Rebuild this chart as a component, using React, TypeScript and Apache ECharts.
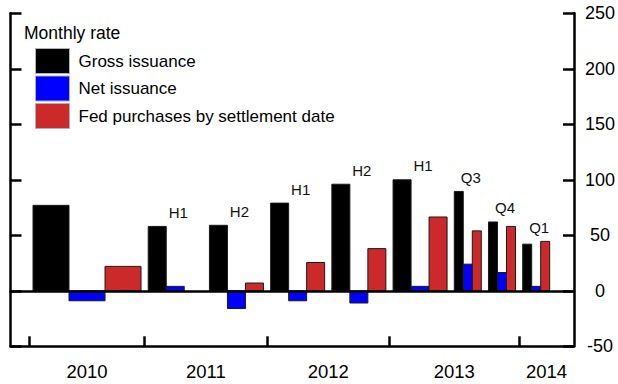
import React, { useEffect, useRef } from "react";
import * as echarts from "echarts";

// ---- data ----
const periods = ["2010", "2011 H1", "2011 H2", "2012 H1", "2012 H2", "2013 H1", "2013 Q3", "2013 Q4", "2014 Q1"];
const periodYears = [2010, 2011, 2011, 2012, 2012, 2013, 2013, 2013, 2014];
const periodMonths = [12, 6, 6, 6, 6, 6, 3, 3, 3];
const periodTags = ["", "H1", "H2", "H1", "H2", "H1", "Q3", "Q4", "Q1"];
const grossIssuance = [77, 58, 59, 79, 96, 100, 89.5, 62, 42];
const netIssuance = [-9, 4, -16, -9, -11, 4, 24, 16.5, 4];
const fedPurchases = [22, 0, 7, 25.5, 38, 66.5, 54, 58, 44.5];
const yTickValues = [-50, 0, 50, 100, 150, 200, 250];
const seriesNames = ["Gross issuance", "Net issuance", "Fed purchases by settlement date"];
const seriesColors = ["#000000", "#0000ff", "#cc2a2a"];

// ---- layout (axis units = months) ----
const GAP = 0.8;
const FIRST_TICK = 2.1;
const X_MAX = 62.6;
const FONT = '"Liberation Sans", Arial, Helvetica, sans-serif';

const starts: number[] = [];
{
  let p = FIRST_TICK + GAP / 2;
  periodMonths.forEach((m) => {
    starts.push(p);
    p += m + GAP;
  });
}
const years = Array.from(new Set(periodYears));
const yearTicks = years.map((y) => starts[periodYears.indexOf(y)] - GAP / 2);
const yearLabelPos = yearTicks.map((t, i) => (t + (i < yearTicks.length - 1 ? yearTicks[i + 1] : X_MAX)) / 2);

const allSeries = [grossIssuance, netIssuance, fedPurchases];

function barData(k: number) {
  return allSeries[k].map((v, i) => {
    const m = periodMonths[i];
    return [starts[i] + (m * k) / 3, starts[i] + (m * (k + 1)) / 3, v, i];
  });
}

const labelData = periods.map((_, i) => [
  starts[i] + periodMonths[i] / 2,
  Math.max(grossIssuance[i], netIssuance[i], fedPurchases[i], 0),
  i,
]);

export default function App() {
  const ref = useRef<HTMLDivElement>(null);
  useEffect(() => {
    if (!ref.current) return;
    const chart = echarts.init(ref.current, undefined, { renderer: "svg" });
    const barSeries = seriesNames.map((name, k) => ({
      name,
      type: "custom",
      xAxisIndex: 0,
      yAxisIndex: 0,
      itemStyle: { color: seriesColors[k] },
      encode: { x: [0, 1], y: 2 },
      data: barData(k),
      renderItem: (params: any, api: any) => {
        const v = api.value(2);
        if (!v) return null;
        const p0 = api.coord([api.value(0), v]);
        const p1 = api.coord([api.value(1), 0]);
        return {
          type: "rect",
          shape: {
            x: p0[0],
            y: Math.min(p0[1], p1[1]),
            width: p1[0] - p0[0],
            height: Math.abs(p1[1] - p0[1]),
          },
          style: { fill: seriesColors[k], stroke: "#1a1a1a", lineWidth: 1 },
        };
      },
    }));
    const option: any = {
      animation: false,
      title: {
        text: "Monthly rate",
        left: 24,
        top: 24,
        padding: 0,
        textStyle: { fontSize: 17.5, fontWeight: "normal", color: "#000", fontFamily: FONT },
      },
      legend: {
        orient: "vertical",
        left: 35,
        top: 48,
        padding: 0,
        itemWidth: 34,
        itemHeight: 25,
        itemGap: 1.5,
        icon: "rect",
        data: seriesNames,
        selectedMode: false,
        itemStyle: { borderColor: "#b0b0b0", borderWidth: 1 },
        textStyle: { fontSize: 17, color: "#000", fontFamily: FONT, padding: [0, 0, 0, 4] },
      },
      grid: {
        left: 10.5,
        right: 44,
        top: 13.3,
        bottom: 37.7,
        containLabel: false,
        outerBoundsMode: "none",
      },
      xAxis: [
        {
          type: "value",
          min: 0,
          max: X_MAX,
          position: "bottom",
          splitLine: { show: false },
          axisLine: { show: true, onZero: false, lineStyle: { color: "#000", width: 2.5 } },
          axisTick: {
            show: true,
            inside: true,
            length: 10,
            customValues: yearTicks,
            lineStyle: { color: "#000", width: 2.5 },
          },
          axisLabel: {
            show: true,
            customValues: yearLabelPos,
            margin: 16,
            fontSize: 18.5,
            color: "#000",
            fontFamily: FONT,
            formatter: (val: number) => {
              const i = yearLabelPos.findIndex((p) => Math.abs(p - val) < 1e-6);
              return i >= 0 ? String(years[i]) : "";
            },
          },
        },
        {
          type: "value",
          min: 0,
          max: X_MAX,
          position: "top",
          z: 10,
          splitLine: { show: false },
          axisLine: { show: true, onZero: true, lineStyle: { color: "#000", width: 2.5 } },
          axisTick: { show: false },
          axisLabel: { show: false },
        },
      ],
      yAxis: [
        {
          type: "value",
          position: "left",
          min: -50,
          max: 250,
          interval: 50,
          splitLine: { show: false },
          axisLine: { show: true, onZero: false, lineStyle: { color: "#000", width: 2.5 } },
          axisTick: { show: true, inside: true, length: 11, lineStyle: { color: "#000", width: 2.5 } },
          axisLabel: { show: false },
        },
        {
          type: "value",
          position: "right",
          min: -50,
          max: 250,
          interval: 50,
          splitLine: { show: false },
          axisLine: { show: true, onZero: false, lineStyle: { color: "#000", width: 2.5 } },
          axisTick: { show: true, inside: true, length: 11, lineStyle: { color: "#000", width: 2.5 } },
          axisLabel: {
            show: true,
            margin: 26,
            align: "center",
            fontSize: 18,
            color: "#000",
            fontFamily: FONT,
            customValues: yTickValues,
          },
        },
      ],
      series: [
        ...barSeries,
        {
          name: "tags",
          type: "custom",
          xAxisIndex: 0,
          yAxisIndex: 0,
          silent: true,
          encode: { x: 0, y: 1 },
          data: labelData,
          renderItem: (params: any, api: any) => {
            const idx = api.value(2);
            const tag = periodTags[idx];
            if (!tag) return null;
            const c = api.coord([api.value(0), api.value(1)]);
            return {
              type: "text",
              x: c[0] + 3,
              y: c[1] - 6.5,
              style: {
                text: tag,
                fill: "#111",
                fontSize: 15,
                fontFamily: FONT,
                align: "center",
                verticalAlign: "bottom",
              },
            };
          },
        },
      ],
    };
    chart.setOption(option);
    return () => chart.dispose();
  }, []);
  return (
    <div
      ref={ref}
      style={{ position: "fixed", left: 0, top: 0, width: 618, height: 384, background: "#fff" }}
    />
  );
}
